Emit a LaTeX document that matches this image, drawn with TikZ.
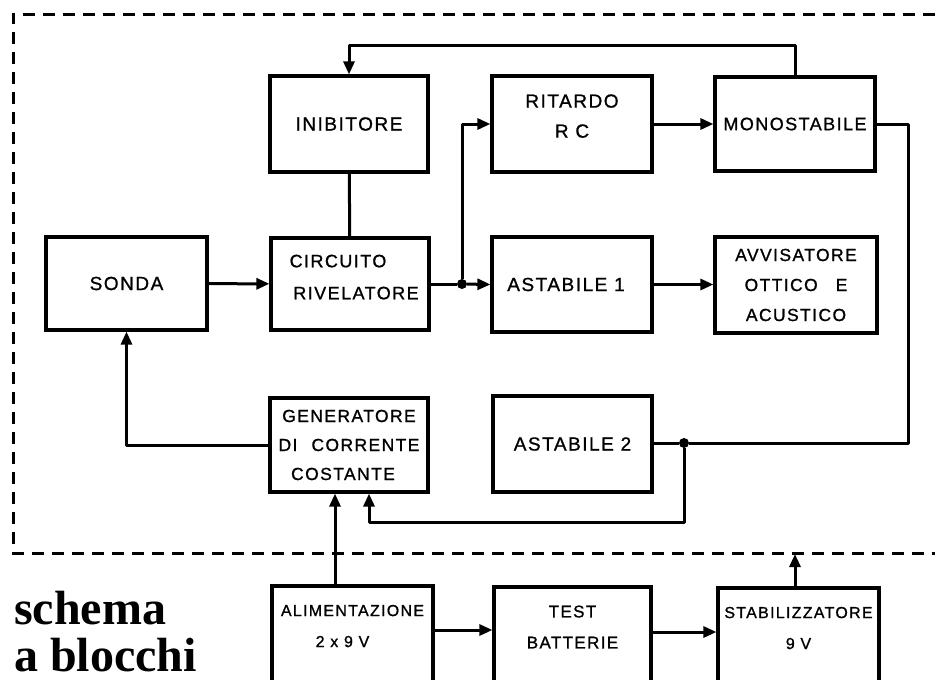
\documentclass[tikz,border=0pt]{standalone}
\usepackage{fontspec}
\newfontfamily\hand[LetterSpace=8,FakeBold=1]{Liberation Sans}
\newfontfamily\titlefont{Liberation Serif}
\usetikzlibrary{arrows.meta,calc}
\begin{document}
\begin{tikzpicture}[x=1pt,y=-1pt,
  blk/.style={draw, line width=3.2pt, inner sep=0pt, align=center,
    font=\hand\fontsize{19}{30}\selectfont},
  wire/.style={line width=3pt, line join=round},
  arr/.style={wire, -{Triangle[length=13pt,width=11pt]}},
  frame/.style={line width=3pt, dash pattern=on 12pt off 8pt},
  dot/.style={circle, fill, inner sep=0pt, minimum size=10pt}]
\useasboundingbox (0,0) rectangle (935,680);
\clip (0,0) rectangle (935,680);

% dashed frame
\draw[frame] (935,14) -- (13,14) -- (13,553) -- (935,553);

% blocks
\node[blk, minimum width=158pt, minimum height=96pt] (inib) at (349,124) {INIBITORE};
\node[blk, minimum width=158pt, minimum height=92pt, text depth=14pt, font=\hand\fontsize{18}{32}\selectfont] (circ) at (350,284) {CIRCUITO\hspace*{24pt}\\\hspace*{12pt}RIVELATORE};
\node[blk, minimum width=161pt, minimum height=93pt] (sonda) at (126.5,283.5) {SONDA};
\node[blk, minimum width=160pt, minimum height=96pt, text depth=16pt] (rit) at (572,124) {RITARDO\\R C};
\node[blk, minimum width=160pt, minimum height=94pt, font=\hand\fontsize{18}{30}\selectfont] (mono) at (795,124) {MONOSTABILE};
\node[blk, minimum width=160pt, minimum height=95pt] (ast1) at (572,284.5) {ASTABILE 1\hspace*{12pt}};
\node[blk, minimum width=162pt, minimum height=96pt, font=\hand\fontsize{17.5}{30}\selectfont] (avv) at (796,285) {AVVISATORE\\OTTICO\hspace{18pt}E\hspace*{12pt}\\ACUSTICO};
\node[blk, minimum width=158pt, minimum height=94pt, font=\hand\fontsize{17.5}{29}\selectfont] (gen) at (349,445) {GENERATORE\\DI\hspace{14pt}CORRENTE\\COSTANTE\hspace*{12pt}};
\node[blk, minimum width=159pt, minimum height=96pt] (ast2) at (572.5,444) {ASTABILE 2};
\node[blk, minimum width=161pt, minimum height=100pt, text depth=20pt, font=\hand\fontsize{16}{31}\selectfont] (alim) at (352.5,636) {ALIMENTAZIONE\\2 x 9 V\hspace*{20pt}};
\node[blk, minimum width=157pt, minimum height=100pt, text depth=20pt, font=\hand\fontsize{17}{31}\selectfont] (test) at (572.5,637) {TEST\\BATTERIE};
\node[blk, minimum width=161pt, minimum height=100pt, text depth=20pt, font=\hand\fontsize{16}{31}\selectfont] (stab) at (798.5,638) {STABILIZZATORE\\9 V};

% junctions and bends
\node[dot] (j1) at (462,284) {};
\node[dot] (j2) at (684,443) {};
\coordinate (fb) at (349,45);
\coordinate (rr) at (908,443);
\coordinate (lo) at (369,522);
\coordinate (ftop) at (795,554);

% connectors
\draw[arr] (sonda) -- (circ);
\draw[wire] (inib) -- (circ);
\draw[arr] (mono.north) |- (fb) -- (inib.north);
\draw[wire] (circ.east) -- (j1);
\draw[arr] (j1) -- (ast1.west);
\draw[arr] (j1) |- (rit.west);
\draw[arr] (rit) -- (mono);
\draw[arr] (ast1) -- (ast1 -| avv.west);
\draw[wire] (mono.east) -| (rr) -- (j2);
\draw[wire] (j2) -- (j2 -| ast2.east);
\draw[arr] (j2) |- (lo) -- (lo |- gen.south);
\draw[arr] (gen.west) -| (sonda.south);
\draw[arr] ([xshift=-17.5pt]alim.north) -- ([xshift=-17.5pt]alim.north |- gen.south);
\draw[arr] ([yshift=6pt]alim.east) -- ([yshift=6pt]alim.east -| test.west);
\draw[arr] ([yshift=5pt]test.east) -- ([yshift=5pt]test.east -| stab.west);
\draw[arr] (stab.north -| ftop) -- (ftop);

% title
\node[anchor=north west, inner sep=0pt, align=left,
  font=\titlefont\bfseries\fontsize{48}{47}\selectfont] (title) at (14,591) {schema\\a blocchi};
\end{tikzpicture}
\end{document}
